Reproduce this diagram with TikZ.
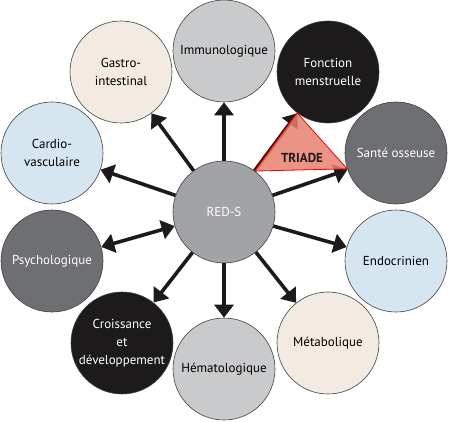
\documentclass[tikz,border=0pt]{standalone}
\usepackage{fontspec}
\setmainfont{PT Sans}
\usetikzlibrary{arrows.meta}
\definecolor{grisclair}{HTML}{C9CACC}
\definecolor{grisfonce}{HTML}{6E6F72}
\definecolor{grismoyen}{HTML}{A2A3A7}
\definecolor{noir}{HTML}{1C1A1B}
\definecolor{bleuclair}{HTML}{D6E6F0}
\definecolor{beige}{HTML}{F3EBE2}
\definecolor{saumon}{HTML}{E8806E}
\begin{document}
\begin{tikzpicture}[x=1pt,y=-1pt,
  sphere/.style={circle, draw=black!75, line width=0.6pt, minimum size=102pt,
    inner sep=1pt, align=center, font=\fontsize{13}{18}\selectfont},
  clair/.style={sphere, text=black},
  sombre/.style={sphere, text=white},
  fleche/.style={line width=3.6pt, draw=noir, -{Triangle[length=13pt,width=19pt]}},
  double fleche/.style={line width=3.6pt, draw=noir, {Triangle[length=13pt,width=19pt]}-{Triangle[length=13pt,width=19pt]}}]
  \useasboundingbox (0,0) rectangle (449,422);
  % RED-S au centre, les systemes autour
  \node[sombre, fill=grismoyen] (reds) at (224,212) {RED-S};
  \node[clair, fill=grisclair] (immuno) at (224,51) {Immunologique};
  \node[sombre, fill=noir] (fonction) at (328,72) {Fonction\\menstruelle};
  \node[sombre, fill=grisfonce] (sante) at (396,153) {Santé osseuse};
  \node[clair, fill=bleuclair] (endo) at (396,261) {Endocrinien};
  \node[clair, fill=beige] (metabo) at (328,343) {Métabolique};
  \node[clair, fill=grisclair] (hemato) at (224,369) {Hématologique};
  \node[sombre, fill=noir] (croissance) at (122,343) {Croissance\\et\\développement};
  \node[sombre, fill=grisfonce] (psycho) at (52,261) {Psychologique};
  \node[clair, fill=bleuclair] (cardio) at (52,153) {Cardio-\\vasculaire};
  \node[clair, fill=beige] (gastro) at (121,72) {Gastro-\\intestinal};
  % fleches
  \draw[fleche] (reds) -- (immuno);
  \draw[fleche] (reds) -- (fonction);
  \draw[fleche] (reds) -- (sante);
  \draw[fleche] (reds) -- (endo);
  \draw[fleche] (reds) -- (metabo);
  \draw[fleche] (reds) -- (hemato);
  \draw[fleche] (reds) -- (croissance);
  \draw[double fleche] (reds) -- (psycho);
  \draw[fleche] (reds) -- (cardio);
  \draw[fleche] (reds) -- (gastro);
  % la triade
  \draw[red, line width=0.8pt, fill=saumon, fill opacity=0.85]
    (reds.53.4) -- (fonction.233.4) -- (sante.198.9) -- cycle;
  \node[font=\fontsize{13}{16}\selectfont\bfseries, text=noir] (triade) at (302,158) {TRIADE};
\end{tikzpicture}
\end{document}
